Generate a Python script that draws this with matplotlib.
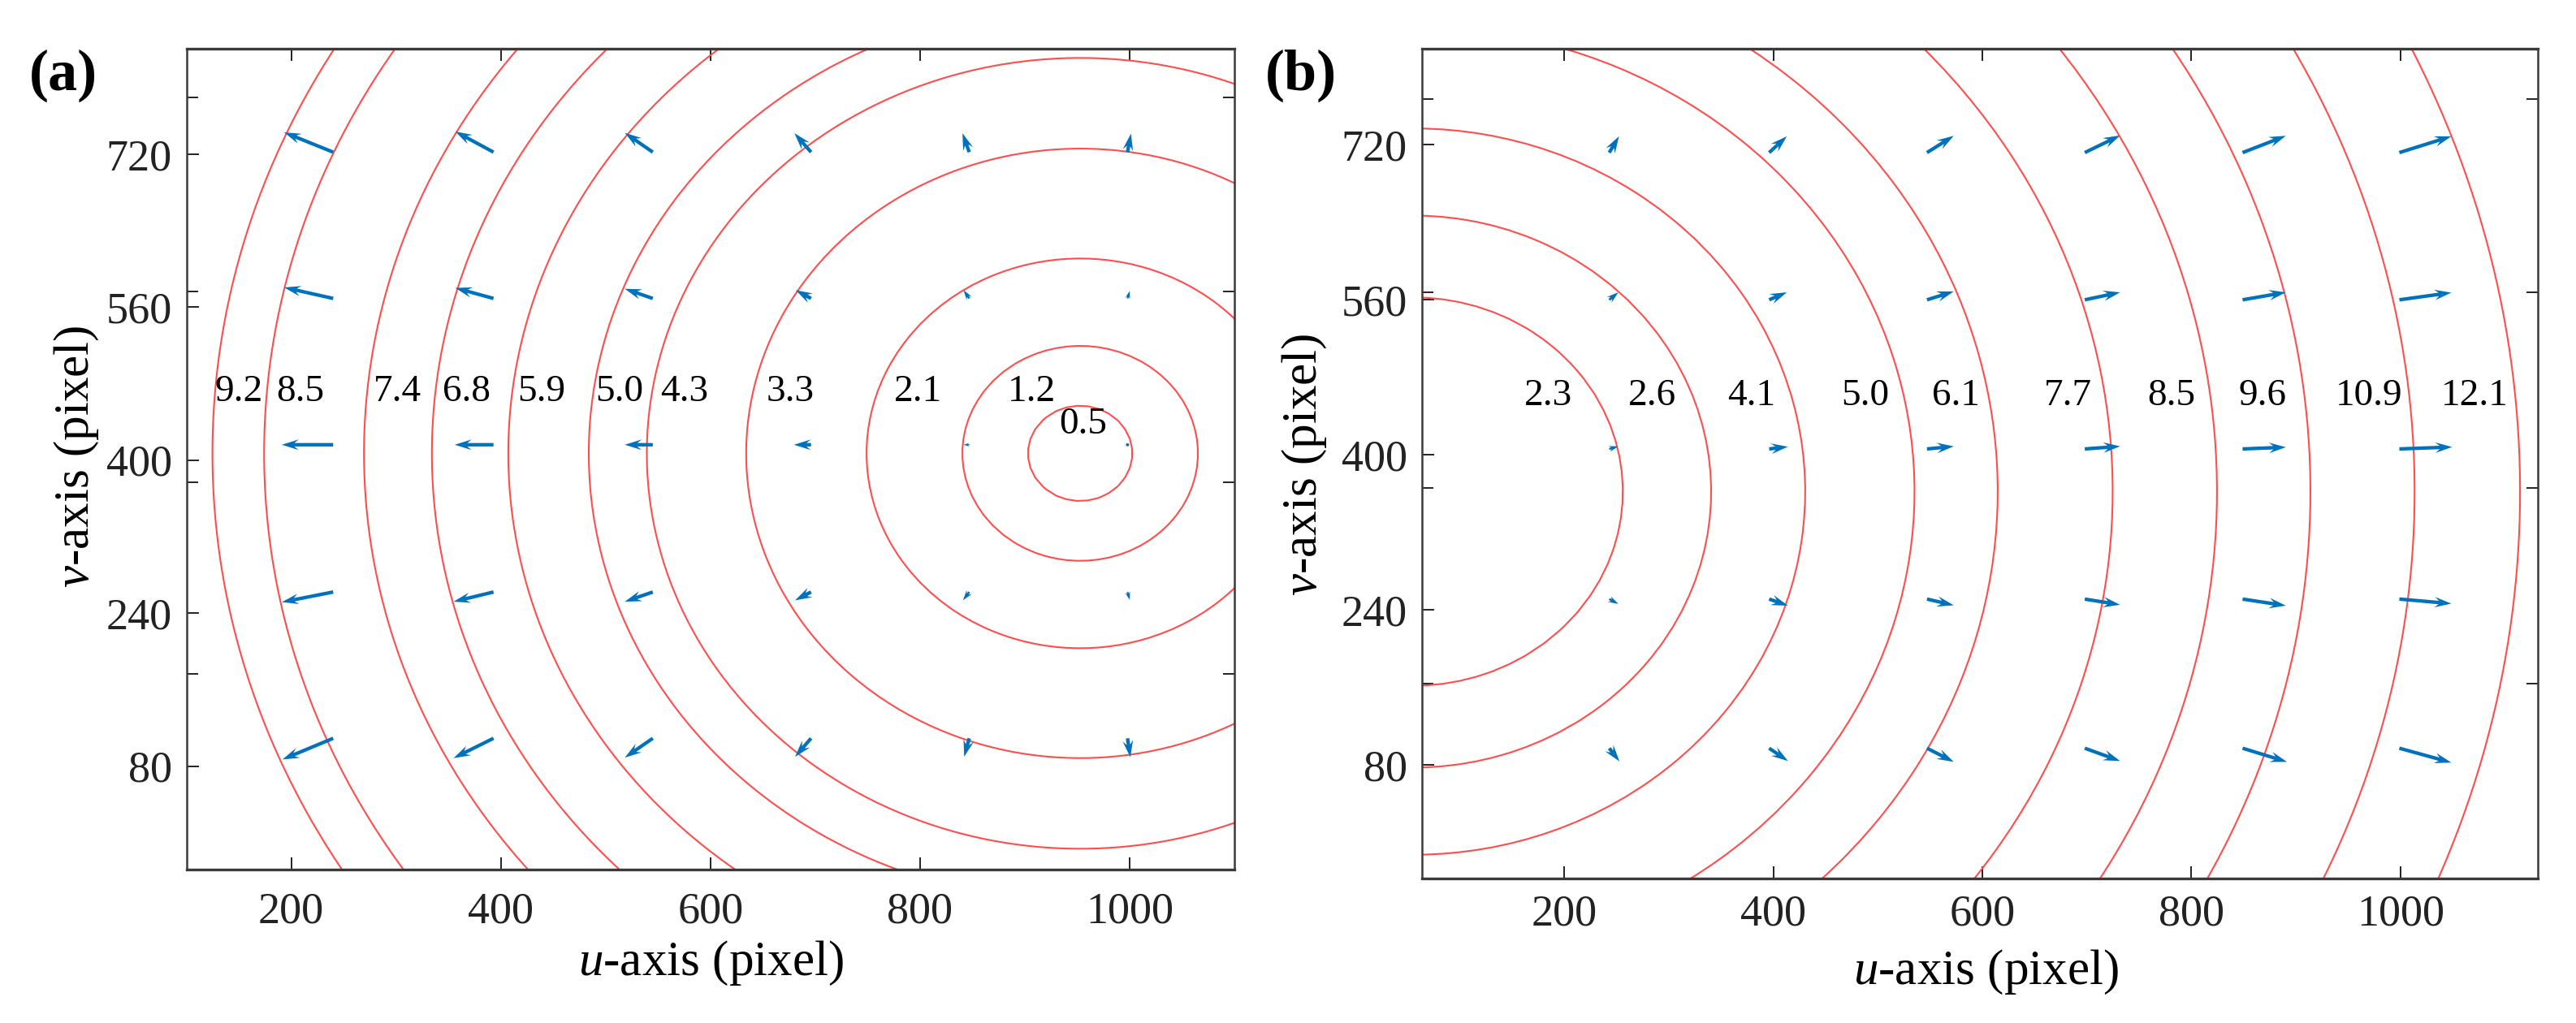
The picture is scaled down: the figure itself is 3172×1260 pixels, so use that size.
import numpy as np
import matplotlib
matplotlib.use('Agg')
import matplotlib.pyplot as plt

plt.rcParams['font.family'] = ['Liberation Serif', 'DejaVu Serif']
plt.rcParams['mathtext.fontset'] = 'custom'
plt.rcParams['mathtext.rm'] = 'Liberation Serif'
plt.rcParams['mathtext.it'] = 'Liberation Serif:italic'

# ---------------- data: panel (a) ----------------
levels_a = [0.5, 1.2, 2.1, 3.3, 4.3, 5.0, 5.9, 6.8, 7.4, 8.5, 9.2]
radii_a = [49.8, 112.4, 203.8, 318.7, 413.5, 468.9, 545.7, 618.6, 683.4, 778.7, 828.0]
center_a = (952.8, 407.0)
label_u_a = [956, 907, 798, 676, 575, 513, 439, 367, 301, 209, 150]
label_v_a = [437, 471, 471, 471, 471, 471, 471, 471, 471, 471, 471]

u_a = [240, 393, 545, 696, 847, 998]
v_a = [109, 262, 416, 569, 722]
du_a = [[-48.4, -38.1, -26.7, -15.2, -4.9, 2.7],
        [-49.0, -38.1, -26.7, -15.2, -6.0, 2.2],
        [-49.0, -37.0, -26.7, -16.3, -5.4, 3.0],
        [-46.8, -36.5, -26.7, -14.7, -5.4, 2.2],
        [-46.8, -36.5, -26.7, -15.8, -6.5, 3.3]]
dv_a = [[-22.1, -20.7, -20.2, -19.3, -19.3, -19.8],
        [-10.6, -10.1, -10.1, -8.7, -8.7, -8.3],
        [0.0, 0.0, 0.0, 0.0, 0.0, 0.0],
        [11.5, 11.0, 10.1, 8.7, 8.7, 7.8],
        [20.7, 21.6, 20.2, 19.8, 19.8, 19.3]]

# ---------------- data: panel (b) ----------------
levels_b = [2.3, 2.6, 4.1, 5.0, 6.1, 7.7, 8.5, 9.6, 10.9, 12.1]
radii_b = [200.5, 285.0, 375.0, 479.6, 559.2, 669.2, 769.0, 858.4, 958.1, 1059.0]
center_b = (55.5, 362.0)
label_u_b = [185, 284, 379, 488, 575, 682, 781, 868, 970, 1071]
label_v_b = [461] * 10

u_b = [243, 396, 547, 698, 849, 999]
v_b = [97, 251, 406, 560, 712]
du_b = [[9.8, 18.0, 25.6, 33.8, 42.5, 49.7],
        [8.7, 18.0, 25.6, 33.8, 41.4, 49.7],
        [8.7, 18.0, 25.6, 33.8, 41.4, 50.5],
        [8.7, 16.9, 25.6, 33.8, 41.4, 49.7],
        [9.3, 16.9, 25.6, 33.8, 41.4, 49.7]]
dv_b = [[-13.6, -13.2, -14.1, -13.2, -14.1, -14.8],
        [-5.0, -6.8, -6.4, -5.9, -6.8, -4.7],
        [2.7, 2.3, 2.7, 2.7, 1.8, 2.0],
        [7.7, 7.7, 8.6, 7.7, 7.7, 7.4],
        [16.8, 16.8, 17.3, 17.7, 17.3, 16.8]]

xticks = [200, 400, 600, 800, 1000]
yticks = [80, 240, 400, 560, 720]

# ---------------- styling ----------------
W, H = 3172, 1260
DPI = 100
RED = '#FF4D4D'
BLUE = '#0072BD'
SPINE = '#3a3a3a'

fig = plt.figure(figsize=(W / DPI, H / DPI), dpi=DPI)


def px_box(l, t, r, b):
    return [l / W, 1 - b / H, (r - l) / W, (b - t) / H]


def panel(box, xlim, ylim, levels, radii, center, lab_u, lab_v,
          qu, qv, du, dv, minor, xpad, ypad, step):
    ax = fig.add_axes(box)
    ax.set_xlim(*xlim)
    ax.set_ylim(*ylim)
    gx = np.arange(xlim[0] - 60, xlim[1] + 60, step)
    gy = np.arange(ylim[0] - 60, ylim[1] + 60, step)
    X, Y = np.meshgrid(gx, gy)
    R = np.hypot(X - center[0], Y - center[1])
    ax.contour(X, Y, R, levels=radii, colors=RED, linewidths=1.5, zorder=2)
    for lev, x, y in zip(levels, lab_u, lab_v):
        ax.text(x, y, f'{lev:.1f}', ha='center', va='center', fontsize=34,
                zorder=4)
    QX, QY = np.meshgrid(qu, qv)
    ax.quiver(QX, QY, np.array(du), np.array(dv), angles='xy',
              scale_units='xy', scale=1, color=BLUE, units='dots',
              width=4.3, headwidth=3.0, headlength=4.8, headaxislength=3.6,
              zorder=3)
    ax.set_xticks(xticks)
    ax.set_yticks(yticks)
    ax.set_yticks(minor, minor=True)
    ax.tick_params(which='major', direction='in', length=11, width=1.4,
                   colors='#222222', top=True, bottom=True, left=True,
                   right=False, labelsize=39)
    ax.tick_params(axis='x', which='major', pad=xpad)
    ax.tick_params(axis='y', which='major', pad=ypad)
    ax.tick_params(which='minor', direction='in', length=10, width=1.4,
                   colors='#222222', left=True, right=True)
    for s in ax.spines.values():
        s.set_color(SPINE)
        s.set_linewidth(1.8)
    for k in ('top', 'bottom'):
        ax.spines[k].set_linewidth(2.4)
    return ax


ax_a = panel(px_box(229.6, 60.2, 1520, 1070.7), (100, 1100), (-28, 830),
             levels_a, radii_a, center_a, label_u_a, label_v_a,
             u_a, v_a, du_a, dv_a, [176, 377, 576, 779], 20, 13, 10.0)
ax_b = panel(px_box(1750.6, 60.3, 3125, 1082), (63.5, 1131.5), (-37.5, 819),
             levels_b, radii_b, center_b, label_u_b, label_v_b,
             u_b, v_b, du_b, dv_b, [164, 366, 568, 767], 14, 13, 16.0)

# axis labels
fig.text(875 / W, 1 - 1186 / H, r'$\mathit{u}$-axis (pixel)', ha='center',
         va='center', fontsize=44)
fig.text(94 / W, 1 - 562 / H, r'$\mathit{v}$-axis (pixel)', ha='center',
         va='center', fontsize=44, rotation=90)
fig.text(2445 / W, 1 - 1197 / H, r'$\mathit{u}$-axis (pixel)', ha='center',
         va='center', fontsize=44)
fig.text(1606 / W, 1 - 572 / H, r'$\mathit{v}$-axis (pixel)', ha='center',
         va='center', fontsize=44, rotation=90)

# panel letters
fig.text(36 / W, 1 - 93 / H, '(a)', ha='left', va='center', fontsize=52,
         fontweight='bold')
fig.text(1558 / W, 1 - 93 / H, '(b)', ha='left', va='center', fontsize=52,
         fontweight='bold')

fig.savefig('out.png', dpi=DPI, facecolor='white')
